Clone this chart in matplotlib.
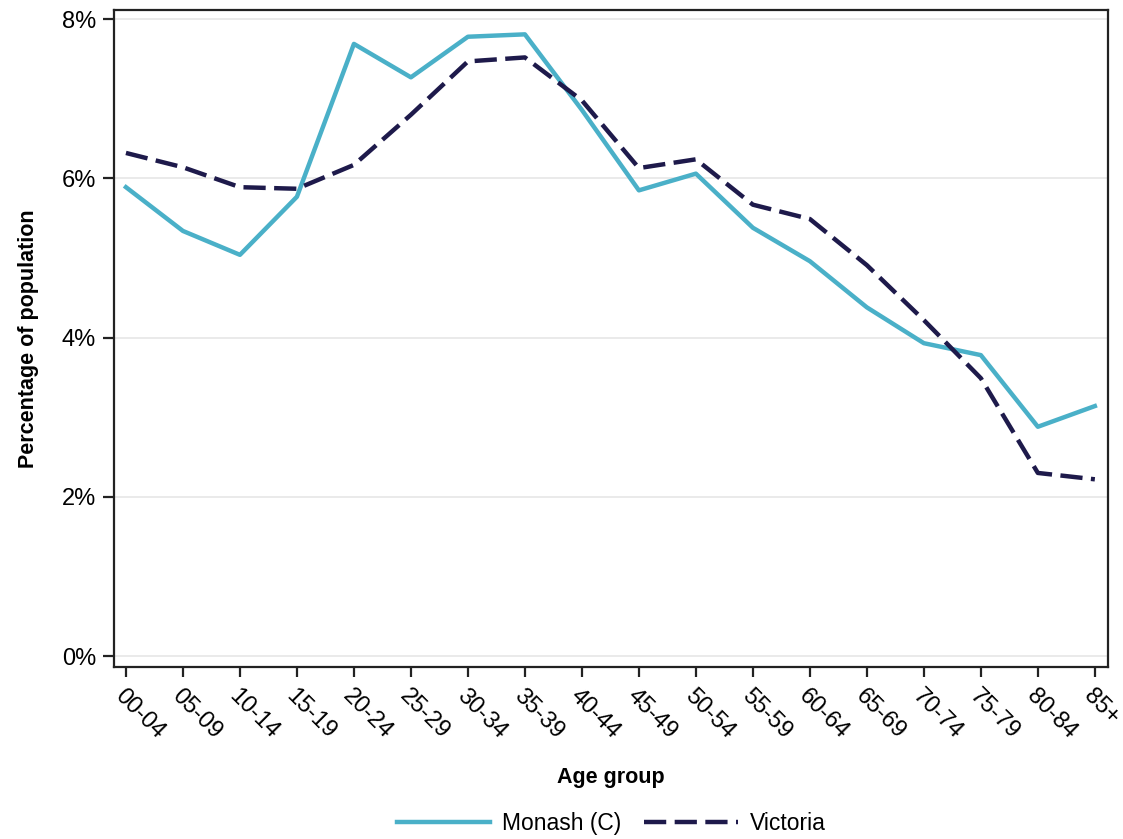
import matplotlib
matplotlib.use("Agg")
import matplotlib.pyplot as plt
from matplotlib.ticker import FuncFormatter

plt.rcParams['font.family'] = ['Liberation Sans', 'DejaVu Sans']

age_groups = ["00-04", "05-09", "10-14", "15-19", "20-24", "25-29", "30-34", "35-39",
              "40-44", "45-49", "50-54", "55-59", "60-64", "65-69", "70-74", "75-79",
              "80-84", "85+"]
monash = [5.89, 5.34, 5.04, 5.77, 7.69, 7.27, 7.78, 7.81, 6.86, 5.85, 6.06, 5.38,
          4.96, 4.38, 3.93, 3.78, 2.88, 3.14]
victoria = [6.32, 6.14, 5.89, 5.87, 6.17, 6.80, 7.47, 7.52, 6.98, 6.13, 6.24, 5.67,
            5.49, 4.91, 4.22, 3.49, 2.30, 2.22]
yticks = [0, 2, 4, 6, 8]

fig = plt.figure(figsize=(11.23, 8.39), dpi=100)
ax_rect = [0.1015, 0.205, 0.8851, 0.783]
ax = fig.add_axes(ax_rect)

x = list(range(len(age_groups)))
ax.plot(x, monash, color='#4AB0C8', lw=3.2, label='Monash (C)', zorder=3)
ax.plot(x, victoria, color='#1E1A4B', lw=3.2, dashes=(5.0, 1.9), label='Victoria', zorder=3)

ax.set_xlim(-0.21, 17.23)
ax.set_ylim(-0.138, 8.115)
ax.set_yticks(yticks)
ax.yaxis.set_major_formatter(FuncFormatter(lambda v, p: f"{v:.0f}%"))
ax.set_xticks(x)
ax.set_xticklabels(age_groups, rotation=-45, ha='left', va='top', rotation_mode='anchor')
ax.grid(axis='y', color='#E6E6E6', lw=1.2, zorder=0)
ax.set_axisbelow(True)

for s in ax.spines.values():
    s.set_linewidth(1.6)
    s.set_color('#222222')
ax.tick_params(axis='both', direction='out', length=8, width=1.6, color='#222222',
               labelsize=17, pad=5)
ax.tick_params(axis='x', length=7, pad=6)

ax.set_xlabel('Age group', fontsize=15.5, fontweight='bold', labelpad=17)
ax.set_ylabel('Percentage of population', fontsize=15.5, fontweight='bold', labelpad=16)

fig.legend(loc='lower center', bbox_to_anchor=(ax_rect[0] + ax_rect[2] / 2, -0.02), ncol=2,
           frameon=False, fontsize=16.5, handlelength=4.1, columnspacing=1.0,
           handletextpad=0.5)

fig.savefig('out.png', dpi=100, facecolor='white')
